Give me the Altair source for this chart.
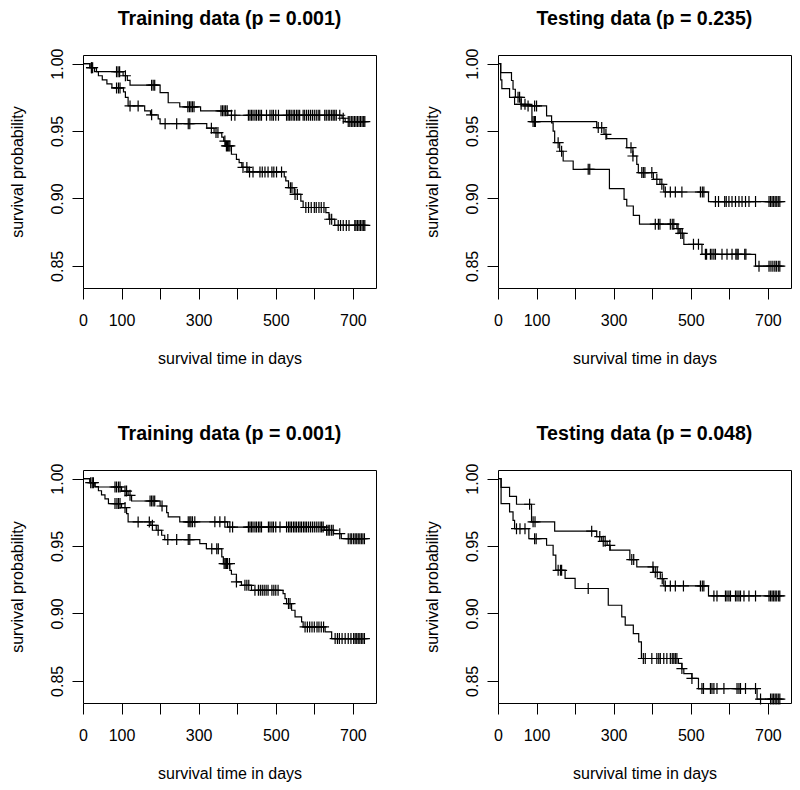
import bisect
import altair as alt
import pandas as pd

FONT = "Liberation Sans"
X_TICKS = [0, 100, 200, 300, 400, 500, 600, 700]
Y_TICKS = [0.85, 0.90, 0.95, 1.00]
X_DOMAIN = [0, 760]
Y_DOMAIN = [0.8336, 1.0064]
END_DAY = 731

TITLES = ["Training data (p = 0.001)", "Testing data (p = 0.235)",
          "Training data (p = 0.001)", "Testing data (p = 0.048)"]

# ---------- Panel 1 : Training data (p = 0.001) ----------
p1_a_t = [0, 18, 35, 104, 115, 122, 200, 221, 251, 305, 376, 672, 680]
p1_a_s = [1.0, 0.997, 0.994, 0.991, 0.9876, 0.984, 0.9785, 0.971, 0.968, 0.965, 0.9617, 0.9595, 0.957]
p1_a_c = [22, 25, 87, 91, 95, 110, 178, 182, 186, 272, 276, 280, 284, 288, 358, 362, 366, 370, 374,
          385, 394, 429, 433, 437, 441, 446, 450, 455, 459, 463, 476, 485, 490, 494, 500, 507, 528, 532,
          536, 540, 545, 549, 554, 558, 562, 571, 575, 580, 585, 590, 595, 600, 605, 610, 614, 627, 631,
          636, 640, 645, 649, 653, 657, 666, 675, 688, 692, 696, 700, 704, 708, 712, 716, 720, 724, 728, 731]
p1_b_t = [0, 18, 30, 40, 50, 62, 75, 105, 110, 117, 160, 175, 195, 200, 321, 340, 360, 365, 370, 385,
          398, 405, 412, 428, 522, 526, 533, 548, 565, 571, 630, 638, 653]
p1_b_s = [1.0, 0.997, 0.994, 0.991, 0.988, 0.985, 0.982, 0.979, 0.975, 0.9686, 0.965, 0.962, 0.959,
          0.9555, 0.9521, 0.9489, 0.9455, 0.9426, 0.939, 0.9328, 0.929, 0.9266, 0.923, 0.9197, 0.916,
          0.913, 0.908, 0.903, 0.898, 0.8933, 0.8895, 0.8846, 0.880]
p1_b_c = [22, 87, 92, 96, 122, 143, 178, 213, 243, 273, 277, 333, 345, 350, 368, 372, 375, 378, 381,
          415, 425, 432, 441, 459, 465, 472, 480, 490, 495, 502, 515, 538, 542, 550, 556, 578, 585, 592,
          600, 605, 612, 618, 625, 640, 645, 662, 668, 675, 683, 690, 705, 708, 712, 716, 720, 724, 728, 731]

# ---------- Panel 2 : Testing data (p = 0.235) ----------
p2_a_t = [0, 7, 10, 30, 43, 88, 256, 275, 282, 334, 350, 360, 364, 403, 420, 430, 546]
p2_a_s = [1.0, 0.988, 0.9815, 0.975, 0.9698, 0.957, 0.9526, 0.9476, 0.9444, 0.9377, 0.9315, 0.9253,
          0.9192, 0.9142, 0.9105, 0.9048, 0.8977]
p2_a_c = [60, 70, 91, 95, 97, 260, 269, 280, 345, 350, 373, 377, 381, 399, 412, 425, 434, 447, 460,
          477, 525, 530, 534, 564, 572, 588, 592, 599, 607, 616, 625, 633, 642, 651, 668, 703, 707, 711,
          715, 719, 723, 727, 731]
p2_b_t = [0, 7, 35, 39, 45, 60, 126, 139, 143, 147, 160, 169, 195, 289, 327, 334, 351, 367, 464, 470,
          482, 529, 668]
p2_b_s = [1.0, 0.9933, 0.9875, 0.981, 0.975, 0.9686, 0.9612, 0.956, 0.950, 0.9414, 0.935, 0.9278,
          0.9216, 0.9073, 0.8994, 0.8944, 0.8875, 0.8809, 0.8776, 0.8741, 0.866, 0.8586, 0.8498]
p2_b_c = [52, 56, 78, 95, 100, 156, 165, 234, 238, 408, 416, 420, 447, 452, 456, 467, 474, 478, 507,
          520, 538, 541, 551, 555, 560, 564, 581, 594, 607, 617, 620, 623, 640, 643, 677, 703, 708, 713,
          718, 722, 727, 731]

# ---------- Panel 3 : Training data (p = 0.001) ----------
p3_a_t = [0, 18, 31, 100, 117, 126, 200, 217, 221, 251, 375, 627, 650, 670]
p3_a_s = [1.0, 0.997, 0.9938, 0.9908, 0.9876, 0.9834, 0.9797, 0.9748, 0.9716, 0.968, 0.9641, 0.9617,
          0.9592, 0.9555]
p3_a_c = [20, 24, 27, 83, 87, 92, 96, 109, 113, 122, 174, 178, 182, 186, 205, 273, 277, 280, 284, 290,
          342, 355, 368, 381, 388, 429, 433, 437, 441, 446, 450, 455, 459, 463, 481, 485, 490, 494, 500,
          511, 528, 533, 537, 541, 546, 550, 554, 559, 563, 567, 572, 576, 580, 585, 590, 595, 600, 605,
          610, 615, 619, 623, 632, 636, 640, 645, 649, 666, 688, 693, 697, 702, 706, 710, 714, 718, 722,
          726, 730]
p3_b_t = [0, 18, 31, 40, 48, 57, 66, 100, 113, 117, 176, 190, 204, 212, 303, 320, 360, 364, 381, 385,
          398, 411, 437, 519, 524, 528, 541, 550, 567, 571, 628, 645]
p3_b_s = [1.0, 0.997, 0.994, 0.991, 0.988, 0.985, 0.9815, 0.9785, 0.9741, 0.9679, 0.9654, 0.9617, 0.958,
          0.9548, 0.9518, 0.948, 0.9419, 0.937, 0.932, 0.9291, 0.9234, 0.9209, 0.9172, 0.9147, 0.911,
          0.9073, 0.9024, 0.8975, 0.8937, 0.89, 0.8863, 0.8814]
p3_b_c = [83, 88, 92, 96, 109, 143, 172, 180, 195, 220, 243, 273, 277, 334, 347, 351, 366, 369, 372,
          375, 380, 398, 420, 425, 430, 446, 455, 460, 465, 470, 475, 480, 490, 495, 500, 506, 533, 537,
          576, 582, 588, 594, 600, 607, 612, 618, 624, 654, 660, 665, 672, 680, 688, 695, 702, 706, 710,
          714, 718, 722, 726, 730]

# ---------- Panel 4 : Testing data (p = 0.048) ----------
p4_a_t = [0, 8, 30, 48, 87, 147, 256, 269, 283, 291, 342, 360, 403, 421, 430, 546]
p4_a_s = [1.0, 0.9935, 0.9869, 0.981, 0.968, 0.961, 0.957, 0.9535, 0.9505, 0.947, 0.940, 0.9345,
          0.9305, 0.9258, 0.9204, 0.913]
p4_a_c = [82, 91, 96, 243, 264, 273, 278, 290, 347, 352, 402, 408, 413, 426, 434, 447, 460, 481, 525,
          530, 534, 560, 568, 590, 594, 599, 603, 616, 620, 625, 629, 638, 651, 668, 703, 707, 711, 715,
          719, 723, 728, 731]
p4_b_t = [0, 8, 30, 39, 43, 80, 126, 143, 150, 174, 200, 286, 321, 330, 351, 365, 372, 468, 477, 482,
          503, 520, 672]
p4_b_s = [1.0, 0.9815, 0.9753, 0.9691, 0.9629, 0.9555, 0.9506, 0.9432, 0.932, 0.926, 0.9185, 0.9061,
          0.8975, 0.8913, 0.8851, 0.879, 0.8666, 0.863, 0.8591, 0.8554, 0.8518, 0.8443, 0.8365]
p4_b_c = [48, 57, 70, 95, 99, 156, 162, 165, 234, 377, 382, 399, 412, 417, 421, 430, 438, 447, 452,
          456, 460, 464, 477, 503, 529, 533, 551, 555, 560, 568, 586, 620, 625, 629, 642, 668, 681, 707,
          711, 715, 719, 723, 727, 731]

PANELS = [
    (p1_a_t, p1_a_s, p1_a_c, p1_b_t, p1_b_s, p1_b_c),
    (p2_a_t, p2_a_s, p2_a_c, p2_b_t, p2_b_s, p2_b_c),
    (p3_a_t, p3_a_s, p3_a_c, p3_b_t, p3_b_s, p3_b_c),
    (p4_a_t, p4_a_s, p4_a_c, p4_b_t, p4_b_s, p4_b_c),
]


def step_frame(t, s, group):
    return pd.DataFrame({"day": list(t) + [END_DAY], "surv": list(s) + [s[-1]], "g": group})


def cens_frame(t, s, c, group):
    rows = []
    for d in c:
        i = bisect.bisect_right(t, d) - 1
        rows.append({"day": d, "surv": s[i], "g": group})
    return pd.DataFrame(rows)


x_axis = alt.Axis(
    values=X_TICKS,
    labelExpr="(datum.value == 200 || datum.value == 400 || datum.value == 600) ? '' : datum.label",
    tickSize=11, tickColor="black", tickWidth=1, domain=False, grid=False,
    labelFont=FONT, labelFontSize=16, labelColor="black", labelPadding=13,
    labelFlush=False, labelOverlap=False,
    title="survival time in days", titleFont=FONT, titleFontSize=16,
    titleFontWeight="normal", titleColor="black", titlePadding=22,
)
y_axis = alt.Axis(
    values=Y_TICKS, format=".2f",
    tickSize=11, tickColor="black", tickWidth=1, domain=False, grid=False,
    labelFont=FONT, labelFontSize=16, labelColor="black", labelPadding=10,
    labelAngle=-90, labelAlign="center", labelBaseline="alphabetic",
    labelFlush=False, labelOverlap=False,
    title="survival probability", titleFont=FONT, titleFontSize=16,
    titleFontWeight="normal", titleColor="black", titlePadding=27,
    titleBaseline="alphabetic",
)


def panel(title, data):
    at, as_, ac, bt, bs, bc = data
    lines = pd.concat([step_frame(at, as_, "a"), step_frame(bt, bs, "b")], ignore_index=True)
    marks = pd.concat([cens_frame(at, as_, ac, "a"), cens_frame(bt, bs, bc, "b")], ignore_index=True)
    x = alt.X("day:Q", scale=alt.Scale(domain=X_DOMAIN, nice=False, zero=False), axis=x_axis)
    y = alt.Y("surv:Q", scale=alt.Scale(domain=Y_DOMAIN, nice=False, zero=False), axis=y_axis)
    line_layer = alt.Chart(lines).mark_line(
        interpolate="step-after", color="black", strokeWidth=1.2
    ).encode(x=x, y=y, detail="g:N")
    mark_layer = alt.Chart(marks).mark_point(
        shape="M-1,0L1,0M0,-1L0,1", size=121, filled=False,
        color="black", strokeWidth=1.2, opacity=1
    ).encode(x=x, y=y)
    return alt.layer(line_layer, mark_layer).properties(
        width=293, height=233,
        title=alt.TitleParams(
            title, font=FONT, fontSize=19.6, fontWeight="bold", color="black",
            anchor="middle", frame="group", offset=3, baseline="alphabetic",
        ),
    )


charts = [panel(TITLES[i], PANELS[i]) for i in range(4)]

chart = alt.concat(
    *charts, columns=2, spacing={"row": 182, "column": 122}, bounds="flush"
).properties(
    padding={"left": 0, "top": 0, "right": 0, "bottom": 0},
    background="white",
).configure_view(
    stroke="black", strokeWidth=1, fill="white"
)

chart.save("out.html", embed_options={"renderer": "svg", "actions": False})
